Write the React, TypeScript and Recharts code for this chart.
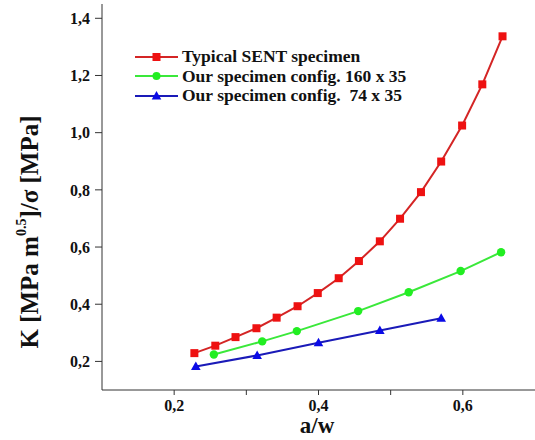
import React from 'react';
import { LineChart, Line, XAxis, YAxis, Legend } from 'recharts';

const sentX = [0.228, 0.257, 0.285, 0.314, 0.342, 0.371, 0.399, 0.428, 0.456, 0.485, 0.513, 0.542, 0.570, 0.599, 0.627, 0.655];
const sentY = [0.229, 0.255, 0.285, 0.316, 0.353, 0.393, 0.439, 0.491, 0.551, 0.620, 0.699, 0.792, 0.899, 1.025, 1.169, 1.337];
const cfg160X = [0.255, 0.322, 0.370, 0.455, 0.525, 0.597, 0.653];
const cfg160Y = [0.224, 0.270, 0.306, 0.376, 0.442, 0.516, 0.582];
const cfg74X = [0.230, 0.315, 0.400, 0.485, 0.570];
const cfg74Y = [0.182, 0.221, 0.265, 0.308, 0.351];

const seriesNames = ['Typical SENT specimen', 'Our specimen config. 160 x 35', 'Our specimen config.  74 x 35'];
const xTicks = [0.2, 0.3, 0.4, 0.5, 0.6];
const xLabeled = [0.2, 0.4, 0.6];
const yTicks = [0.2, 0.4, 0.6, 0.8, 1.0, 1.2, 1.4];

const toRows = (xs: number[], ys: number[]) => xs.map((x, i) => ({ x, y: ys[i] }));
const sentData = toRows(sentX, sentY);
const cfg160Data = toRows(cfg160X, cfg160Y);
const cfg74Data = toRows(cfg74X, cfg74Y);

const FONT = '"Liberation Serif", "Times New Roman", serif';
const fmt = (v: number) => v.toFixed(1).replace('.', ',');

const RED_LINE = '#d42525';
const RED = '#ee1111';
const GREEN_LINE = '#3ae83a';
const GREEN = '#22ee22';
const BLUE_LINE = '#1a1ab8';
const BLUE = '#0a0ae6';

const SquareDot = (p: any) => (
  <rect key={`s${p.index}`} x={p.cx - 4} y={p.cy - 4} width={8} height={8} fill={RED} />
);
const CircleDot = (p: any) => (
  <circle key={`c${p.index}`} cx={p.cx} cy={p.cy} r={4.2} fill={GREEN} />
);
const TriDot = (p: any) => (
  <polygon key={`t${p.index}`} points={`${p.cx},${p.cy - 5} ${p.cx - 4.8},${p.cy + 3.5} ${p.cx + 4.8},${p.cy + 3.5}`} fill={BLUE} />
);

const LegendContent = () => {
  const rows = [
    { name: seriesNames[0], line: RED_LINE, mark: 'sq', fill: RED },
    { name: seriesNames[1], line: GREEN_LINE, mark: 'ci', fill: GREEN },
    { name: seriesNames[2], line: BLUE_LINE, mark: 'tr', fill: BLUE },
  ];
  return (
    <div style={{ fontFamily: FONT, fontWeight: 'bold', fontSize: 17.5, color: '#111', lineHeight: '19.5px' }}>
      {rows.map((r, i) => (
        <div key={i} style={{ display: 'flex', alignItems: 'center', height: 19.5, whiteSpace: 'pre' }}>
          <svg width={44} height={12} style={{ marginRight: 3 }}>
            <line x1={0} y1={6} x2={43} y2={6} stroke={r.line} strokeWidth={2} />
            {r.mark === 'sq' && <rect x={17.5} y={2} width={8} height={8} fill={r.fill} />}
            {r.mark === 'ci' && <circle cx={21.5} cy={6} r={4} fill={r.fill} />}
            {r.mark === 'tr' && <polygon points="21.5,1 16.7,9.5 26.3,9.5" fill={r.fill} />}
          </svg>
          <span>{r.name}</span>
        </div>
      ))}
    </div>
  );
};

const YLabel = () => (
  <text transform="translate(38,232) rotate(-90)" textAnchor="middle" fontFamily={FONT} fontWeight="bold" fontSize={25} fill="#111">
    <tspan>K [MPa m</tspan>
    <tspan fontSize={14} dy={-12}>0.5</tspan>
    <tspan dy={12}>]/σ [MPa]</tspan>
  </text>
);

const XLabel = () => (
  <text x={317} y={433} textAnchor="middle" fontFamily={FONT} fontWeight="bold" fontSize={23} fill="#111">a/w</text>
);

export default function App() {
  return (
    <div style={{ position: 'fixed', left: 0, top: 0, width: 535, height: 440, background: '#fff' }}>
      <LineChart width={535} height={440} margin={{ top: 4, right: 0, bottom: 0, left: 0 }}>
        <XAxis
          type="number"
          dataKey="x"
          domain={[0.1, 0.7]}
          ticks={xTicks}
          allowDataOverflow
          height={50}
          tickFormatter={(v: number) => (xLabeled.some((t) => Math.abs(t - v) < 1e-6) ? fmt(v) : '')}
          tick={{ fontFamily: FONT, fontWeight: 'bold', fontSize: 16, fill: '#111', dy: 3 }}
          tickSize={5}
          stroke="#333"
          label={<XLabel />}
        />
        <YAxis
          type="number"
          dataKey="y"
          domain={[0.1, 1.45]}
          ticks={yTicks}
          allowDataOverflow
          width={102}
          tickFormatter={fmt}
          tick={{ fontFamily: FONT, fontWeight: 'bold', fontSize: 16, fill: '#111', dx: -3 }}
          tickSize={7}
          stroke="#333"
          label={<YLabel />}
        />
        <Legend
          layout="horizontal"
          verticalAlign="middle"
          align="center"
          wrapperStyle={{ position: 'absolute', left: 135, top: 47, width: 330 }}
          content={<LegendContent />}
        />
        <Line data={sentData} dataKey="y" name={seriesNames[0]} stroke={RED_LINE} strokeWidth={2} dot={SquareDot} activeDot={false} isAnimationActive={false} />
        <Line data={cfg160Data} dataKey="y" name={seriesNames[1]} stroke={GREEN_LINE} strokeWidth={2} dot={CircleDot} activeDot={false} isAnimationActive={false} />
        <Line data={cfg74Data} dataKey="y" name={seriesNames[2]} stroke={BLUE_LINE} strokeWidth={2} dot={TriDot} activeDot={false} isAnimationActive={false} />
      </LineChart>
    </div>
  );
}
